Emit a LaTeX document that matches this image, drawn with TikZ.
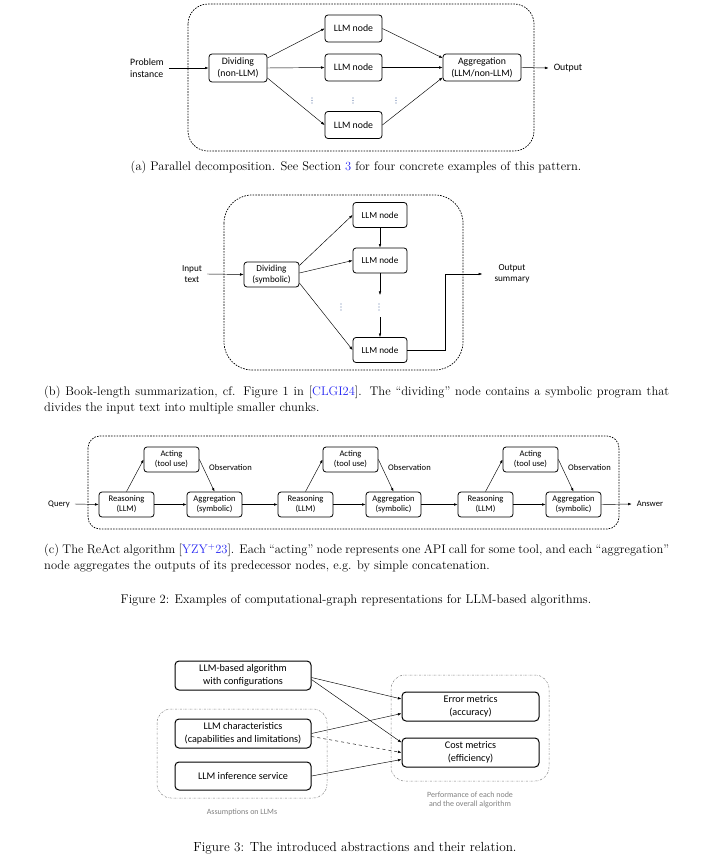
\documentclass[tikz,border=0pt]{standalone}
\usepackage{amsmath}
\usepackage{fontspec}
\newfontfamily\calibfont{Carlito}
\usetikzlibrary{arrows.meta}

\definecolor{citeblue}{rgb}{0.15,0.15,0.95}
\definecolor{dotblue}{rgb}{0.35,0.45,0.65}
\definecolor{framegray}{gray}{0.5}

\tikzset{
  blk/.style={draw, line width=0.8pt, rounded corners=3pt, align=center, inner sep=0pt},
  blkthree/.style={draw, line width=1pt, rounded corners=4pt, align=center, inner sep=0pt,
    minimum width=136pt, minimum height=29pt, font=\calibfont\fontsize{10.2}{13}\selectfont},
  lbl/.style={inner sep=5pt, align=center},
  arr/.style={-{Latex[length=3.6pt,width=2.6pt]}, line width=0.45pt},
  dashframe/.style={line width=0.7pt, dash pattern=on 1.6pt off 1.2pt},
  dotframe/.style={framegray, line width=0.5pt, dash pattern=on 2pt off 1.2pt on 0.4pt off 1.2pt},
  fonta/.style={font=\calibfont\fontsize{9.8}{12}\selectfont},
  fontb/.style={font=\calibfont\fontsize{9.2}{11.5}\selectfont},
  fontc/.style={font=\calibfont\fontsize{8.6}{10}\selectfont},
  subcap/.style={font=\fontsize{12.5}{16}\selectfont, inner sep=0pt},
  figcap/.style={font=\fontsize{12.6}{15}\selectfont, inner sep=0pt},
}

\begin{document}
\begin{tikzpicture}[x=1pt,y=-1pt]
\useasboundingbox (0,0) rectangle (720,856);

% (a) parallel decomposition
\draw[dashframe, rounded corners=20pt] (188,4) rectangle (534,151);
\node[lbl, fonta, align=left] (prob) at (147,68) {Problem\\instance};
\node[blk, fonta, minimum width=58pt, minimum height=28pt] (div) at (238,68) {Dividing\\(non-LLM)};
\foreach \n/\y in {1/28.5, 2/67.5, 3/125}
  \node[blk, fonta, minimum width=57pt, minimum height=27pt] (llm\n) at (353.5,\y) {LLM node};
\node[blk, fonta, minimum width=78pt, minimum height=27pt] (agg) at (482,67.5) {Aggregation\\(LLM/non-LLM)};
\node[lbl, fonta] (out) at (568,68) {Output};
\draw[arr] (prob.east) -- (div.west);
\draw[arr] ([yshift=10pt]div.east) -- (llm1.west);
\draw[arr] (div.east) -- (llm2.west);
\draw[arr] ([yshift=-10pt]div.east) -- (llm3.west);
\draw[arr] (llm1.east) -- ([yshift=9.5pt]agg.west);
\draw[arr] (llm2.east) -- (agg.west);
\draw[arr] (llm3.east) -- ([yshift=-10pt]agg.west);
\draw[arr] (agg.east) -- (out.west);
\foreach \x in {312,353,396}
  \foreach \d in {-2.5,0,2.5}
    \fill[dotblue] (\x,100.5+\d) circle (0.55pt);
\node[subcap] (capa) at (356,167) {(a) Parallel decomposition. See Section {\color{citeblue}3} for four concrete examples of this pattern.};

% (b) book-length summarization
\draw[dashframe, rounded corners=28pt] (224,195) rectangle (463,370);
\node[lbl, fontb] (inp) at (192,274) {Input\\text};
\node[blk, fontb, minimum width=55pt, minimum height=25pt] (divb) at (271.5,274.5) {Dividing\\(symbolic)};
\foreach \n/\y in {1/215, 2/260.5, 3/350}
  \node[blk, fontb, minimum width=54pt, minimum height=25pt] (llmb\n) at (380,\y) {LLM node};
\node[lbl, fontb] (outsum) at (512,274) {Output\\summary};
\coordinate (gaptop) at (380,295);
\coordinate (gapbot) at (380,317);
\draw[arr] (inp.east) -- (divb.west);
\draw[arr] ([yshift=9pt]divb.east) -- (llmb1.west);
\draw[arr] ([yshift=1.5pt]divb.east) -- (llmb2.west);
\draw[arr] ([yshift=-8.5pt]divb.east) -- (llmb3.west);
\draw[arr] (llmb1.south) -- (llmb2.north);
\draw[arr] (llmb2.south) -- (gaptop);
\draw[arr] (gapbot) -- (llmb3.north);
\draw[arr] (llmb3.east) -- ++(38,0) |- ([xshift=-7pt]outsum.west);
\foreach \x in {341,379}
  \foreach \d in {-3,0,3}
    \fill[dotblue] (\x,307+\d) circle (0.55pt);
\node[subcap, text width=625pt, align=justify, anchor=west] (capb) at (44,400) {(b) Book-length summarization, cf. Figure 1 in [{\color{citeblue}CLGI24}]. The “dividing” node contains a symbolic program that\linebreak divides the input text into multiple smaller chunks.};

% (c) ReAct
\draw[dashframe, rounded corners=12pt] (88,436) rectangle (619,529);
\node[lbl, fontc] (query) at (59,504) {Query};
\foreach \i/\x in {1/126.5, 2/305.5, 3/485.5} {
  \node[blk, fontc, minimum width=55pt, minimum height=25pt] (rea\i) at (\x,504.5) {Reasoning\\(LLM)};
  \node[blk, fontc, minimum width=55pt, minimum height=25pt] (act\i) at (\x+45,459.5) {Acting\\(tool use)};
  \node[blk, fontc, minimum width=55pt, minimum height=25pt] (agr\i) at (\x+88,504.5) {Aggregation\\(symbolic)};
  \node[lbl, fontc] (obs\i) at (\x+104,468) {Observation};
  \draw[arr] (rea\i.north) -- (act\i.west);
  \draw[arr] (act\i.east) -- (agr\i.north);
  \draw[arr] (rea\i.east) -- (agr\i.west);
}
\node[lbl, fontc] (ans) at (650,504) {Answer};
\draw[arr] (query.east) -- (rea1.west);
\draw[arr] (agr1.east) -- (rea2.west);
\draw[arr] (agr2.east) -- (rea3.west);
\draw[arr] (agr3.east) -- (ans.west);
\node[subcap, text width=625pt, align=justify, anchor=west] (capc) at (44,558) {(c) The ReAct algorithm [{\color{citeblue}YZY\textsuperscript{+}23}]. Each “acting” node represents one API call for some tool, and each “aggregation”\linebreak node aggregates the outputs of its predecessor nodes, e.g. by simple concatenation.};

\node[figcap] (figtwo) at (356,600) {Figure 2: Examples of computational-graph representations for LLM-based algorithms.};

% abstractions and their relation
\draw[dotframe, rounded corners=14pt] (157,709) rectangle (327,798);
\draw[dotframe, rounded corners=14pt] (391,675) rectangle (549,781);
\node[blkthree] (alg) at (243,675.5) {LLM-based algorithm\\with configurations};
\node[blkthree] (chr) at (243,733.5) {LLM characteristics\\(capabilities and limitations)};
\node[blkthree, minimum height=28pt] (inf) at (243,776) {LLM inference service};
\node[blkthree, minimum width=137pt] (err) at (470.5,706.5) {Error metrics\\(accuracy)};
\node[blkthree, minimum width=137pt] (cst) at (470.5,752.5) {Cost metrics\\(efficiency)};
\node[framegray, font=\calibfont\fontsize{8}{9.5}\selectfont] (asm) at (242,812) {Assumptions on LLMs};
\node[framegray, font=\calibfont\fontsize{8}{9.5}\selectfont, align=center] (perf) at (470,800) {Performance of each node\\and the overall algorithm};
\draw[arr] ([yshift=-2pt]alg.east) -- ([yshift=7.5pt]err.west);
\draw[arr] ([yshift=-4pt]alg.east) -- ([yshift=10pt]cst.west);
\draw[arr] (chr.east) -- ([yshift=-7pt]err.west);
\draw[arr, dashed] ([yshift=-3pt]chr.east) -- (cst.west);
\draw[arr] (inf.east) -- ([yshift=-7pt]cst.west);

\node[figcap, font=\fontsize{13.2}{15}\selectfont] (figthree) at (355,848) {Figure 3: The introduced abstractions and their relation.};
\end{tikzpicture}
\end{document}
